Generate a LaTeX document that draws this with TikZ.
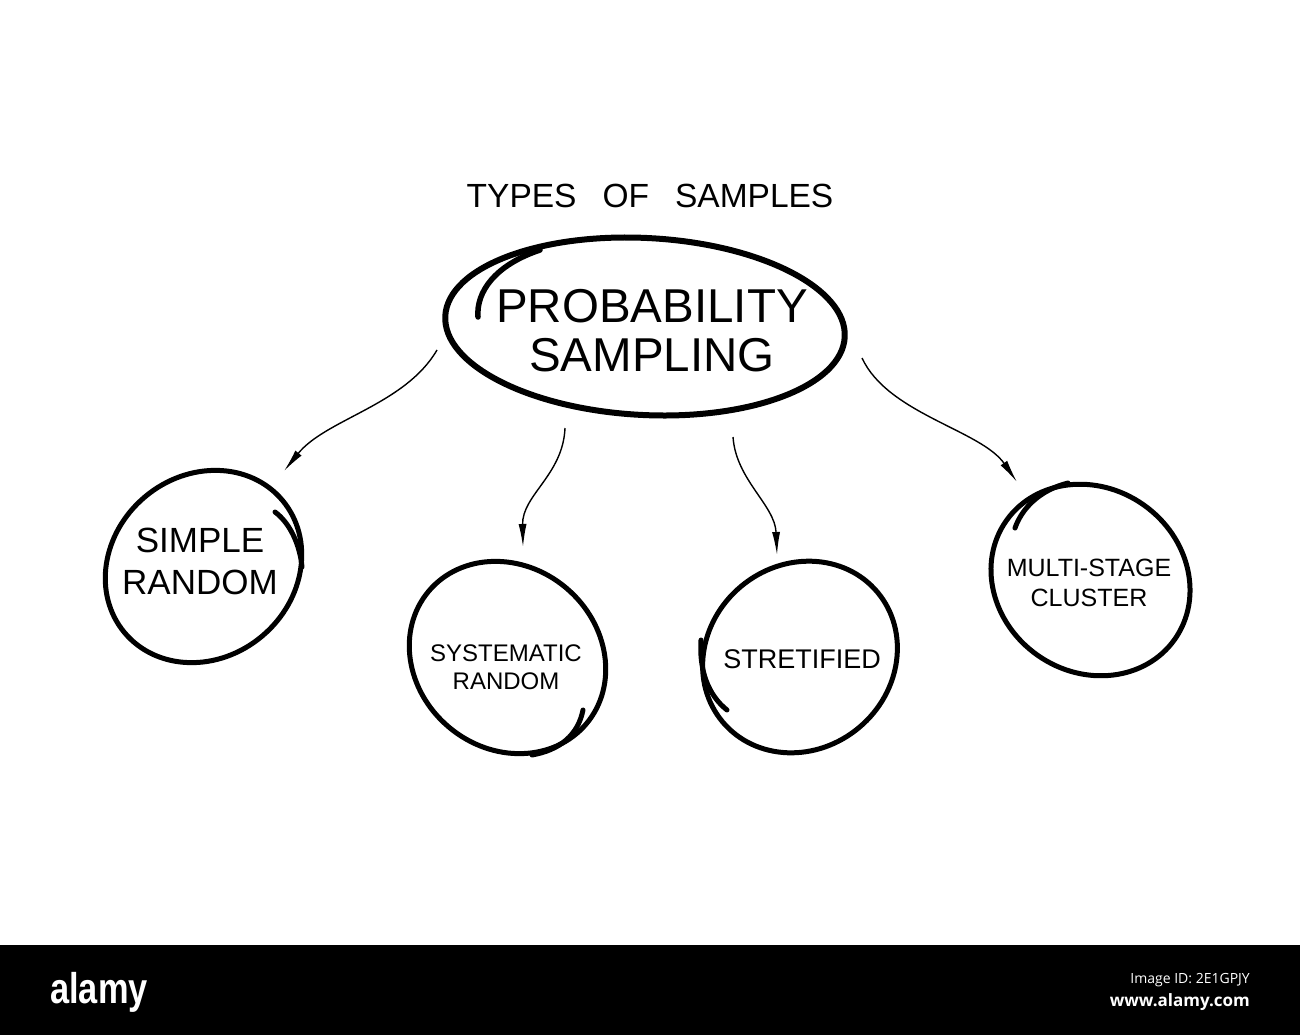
\documentclass[tikz,border=0pt]{standalone}
\usepackage{fontspec}
\setmainfont{Liberation Sans}
\newfontfamily\logofont{Liberation Sans}[FakeStretch=0.8]
\newfontfamily\barfont{Open Sans}
\usetikzlibrary{shapes.geometric,arrows.meta,calc}
\begin{document}
\begin{tikzpicture}[x=1pt,y=-1pt,
  ring/.style={draw, ellipse, line width=5pt, inner sep=0pt},
  swash/.style={line width=5pt, line cap=round},
  conn/.style={line width=1.4pt, -{Latex[length=23pt,width=8pt]}},
  lbl/.style={align=center, inner sep=0pt, text=black},
  bartext/.style={inner sep=0pt, text=white}]
\useasboundingbox (0,0) rectangle (1300,1035);
\fill[white] (0,0) rectangle (1300,945);
\fill[black] (0,945) rectangle (1300,1035);

% title
\node[lbl, font=\fontsize{33.5}{40}\selectfont] (title) at (650,195.5) {TYPES\hspace{26pt}OF\hspace{26pt}SAMPLES};

% main ellipse
\node[ring, line width=6pt, minimum width=400pt, minimum height=177pt, rotate=-3] (prob) at (645,326.5) {};
\node[lbl, font=\fontsize{47.5}{49}\selectfont] (probtxt) at (652,330.5) {PROBABILITY\\SAMPLING};
\draw[swash, line width=5.5pt] (478,317) .. controls (476,292) and (495,265) .. (540,250);

% child circles
\node[ring, minimum width=206pt, minimum height=182pt, rotate=40] (simple) at (203.5,566.5) {};
\node[lbl, font=\fontsize{35}{42}\selectfont] (simpletxt) at (200,561.5) {SIMPLE\\RANDOM};
\draw[swash] (275,512) .. controls (290,523) and (300,545) .. (302,567);

\node[ring, minimum width=206pt, minimum height=182pt, rotate=-40] (sys) at (507.5,657.5) {};
\node[lbl, font=\fontsize{24}{28}\selectfont] (systxt) at (506,667) {SYSTEMATIC\\RANDOM};
\draw[swash] (583,710) .. controls (578,735) and (560,750) .. (532,755);

\node[ring, minimum width=202pt, minimum height=184pt, rotate=40] (strat) at (800,657) {};
\node[lbl, font=\fontsize{27}{32}\selectfont] (strattxt) at (802,659) {STRETIFIED};
\draw[swash] (727,710) .. controls (708,695) and (699,670) .. (701,640);

\node[ring, minimum width=206pt, minimum height=184pt, rotate=-35] (multi) at (1090.5,580) {};
\node[lbl, font=\fontsize{25}{30}\selectfont] (multitxt) at (1089,582.5) {MULTI-STAGE\\CLUSTER};
\draw[swash] (1015,528) .. controls (1022,508) and (1040,490) .. (1068,483);

% connector ends (free ends near the shapes)
\coordinate (a1s) at ($(prob)+(-208,23.5)$);
\coordinate (a1e) at ($(simple)+(80.5,-95.5)$);
\coordinate (a2s) at ($(prob)+(-80,101.5)$);
\coordinate (a2e) at ($(sys)+(15.5,-110.5)$);
\coordinate (a3s) at ($(prob)+(88,110.5)$);
\coordinate (a3e) at ($(strat)+(-23,-102)$);
\coordinate (a4s) at ($(prob)+(217,31.5)$);
\coordinate (a4e) at ($(multi)+(-73.5,-98)$);

\draw[conn] (a1s) .. controls +(-32,55) and +(42,-52) .. (a1e);
\draw[conn] (a2s) .. controls +(-2,47) and +(-1,-52) .. (a2e);
\draw[conn] (a3s) .. controls +(3,43) and +(-2,-50) .. (a3e);
\draw[conn] (a4s) .. controls +(26,56) and +(-36,-52) .. (a4e);

% footer bar
\node[bartext, anchor=base west, font=\logofont\bfseries\fontsize{43}{43}\selectfont] (logo) at (50,1003) {alamy};
\node[bartext, anchor=base east, font=\barfont\fontsize{14}{14}\selectfont] (imgid) at (1250,983) {Image ID: 2E1GPJY};
\node[bartext, anchor=base east, font=\barfont\bfseries\fontsize{17}{17}\selectfont] (url) at (1250,1006) {www.alamy.com};
\end{tikzpicture}
\end{document}
